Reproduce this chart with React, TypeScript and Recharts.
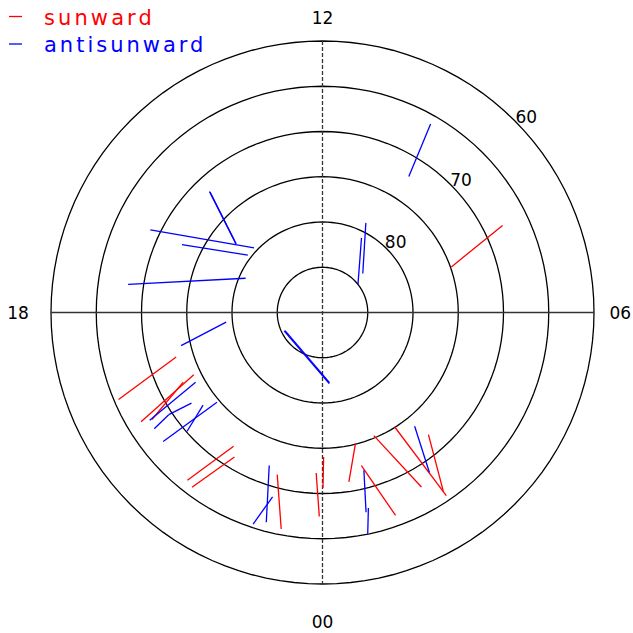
import { ScatterChart, Scatter, XAxis, YAxis, ReferenceDot } from "recharts"

// segments: [mlt start, lat start, mlt end, lat end]
const sunward = [
  [7.72, 67.9, 7.3, 74.9],
  [19.13, 73.1, 19.54, 65.5],
  [19.72, 74.2, 20.07, 66.6],
  [19.77, 72.8, 20.14, 67.75],
  [21.76, 72.25, 21.41, 66.2],
  [21.91, 71.3, 21.55, 65.9],
  [22.96, 71.4, 23.28, 65.65],
  [23.85, 72.25, 23.94, 67.46],
  [0.03, 74.04, 0.01, 70.6],
  [0.94, 75.06, 0.59, 71.05],
  [0.95, 72.54, 1.32, 66.17],
  [1.51, 75.26, 1.97, 67.84],
  [2.15, 75.04, 2.27, 65.57],
  [2.73, 72.14, 2.27, 66.15],
]

const antisunward = [
  [14.87, 71.7, 15.44, 77.8],
  [14.87, 71.8, 15.43, 77.8],
  [16.29, 68.9, 15.11, 79.6],
  [16.28, 72.75, 15.5, 79.6],
  [17.45, 68.3, 16.4, 80.7],
  [10.01, 66.0, 9.84, 72.2],
  [10.28, 79.0, 8.94, 83.8],
  [10.16, 80.7, 8.56, 85.0],
  [18.38, 79.3, 18.88, 73.95],
  [19.72, 85.4, 0.38, 82.2],
  [19.7, 85.3, 0.36, 82.1],
  [19.92, 74.0, 20.13, 67.5],
  [20.31, 72.4, 20.24, 69.6],
  [20.24, 69.6, 20.31, 67.4],
  [20.69, 74.7, 20.6, 67.35],
  [20.52, 73.3, 20.75, 70.1],
  [22.72, 72.1, 23.0, 66.0],
  [22.99, 68.9, 22.79, 65.4],
  [0.98, 71.97, 0.82, 67.4],
  [0.88, 67.8, 0.77, 65.04],
  [2.6, 73.82, 2.25, 68.73],
]

const latCircles = [85, 80, 75, 70, 65, 60]
const latLabels = [80, 70, 60]
const mltLabels = ["00", "06", "12", "18"]

const toXY = (mlt: number, lat: number) => {
  const colat = 90 - lat
  const th = (mlt * 15 * Math.PI) / 180
  return { x: colat * Math.sin(th), y: -colat * Math.cos(th) }
}

const circlePoints = (lat: number) => {
  const pts = []
  for (let a = 0; a <= 360; a += 3) pts.push(toXY(a / 15, lat))
  return pts
}

// label distance outside the 60° circle, per MLT label
const mltLabelLat: Record<string, number> = { "00": 55.8, "06": 57.1, "12": 57.5, "18": 56.35 }

const noDot = () => <g />

export default function App() {
  const W = 633
  const H = 633
  return (
    <div style={{ position: "absolute", left: 0, top: 0, width: W, height: H, background: "#fff", fontFamily: "DejaVu Sans" }}>
      <ScatterChart width={W} height={H} margin={{ top: 4.8, right: 2.8, bottom: 12.8, left: 14.8 }}>
        <XAxis type="number" dataKey="x" domain={[-34, 34]} hide allowDataOverflow />
        <YAxis type="number" dataKey="y" domain={[-34, 34]} hide allowDataOverflow />
        {latCircles.map((lat) => (
          <Scatter
            key={"c" + lat}
            data={circlePoints(lat)}
            line={{ stroke: "#000", strokeWidth: 1.3 }}
            shape={noDot}
            isAnimationActive={false}
          />
        ))}
        <Scatter
          data={[toXY(18, 60), toXY(6, 60)]}
          line={{ stroke: "#333", strokeWidth: 1.3 }}
          shape={noDot}
          isAnimationActive={false}
        />
        <Scatter
          data={[toXY(12, 60), toXY(0, 60)]}
          line={{ stroke: "#333", strokeWidth: 1.3, strokeDasharray: "4 2" }}
          shape={noDot}
          isAnimationActive={false}
        />
        {sunward.map((s, i) => (
          <Scatter
            key={"s" + i}
            data={[toXY(s[0], s[1]), toXY(s[2], s[3])]}
            line={{ stroke: "#ff0000", strokeWidth: 1.3 }}
            shape={noDot}
            isAnimationActive={false}
          />
        ))}
        {antisunward.map((s, i) => (
          <Scatter
            key={"a" + i}
            data={[toXY(s[0], s[1]), toXY(s[2], s[3])]}
            line={{ stroke: "#0000ff", strokeWidth: 1.3 }}
            shape={noDot}
            isAnimationActive={false}
          />
        ))}
        {mltLabels.map((m) => {
          const p = toXY(Number(m), mltLabelLat[m])
          return (
            <ReferenceDot
              key={"m" + m}
              x={p.x}
              y={p.y}
              r={0}
              ifOverflow="visible"
              shape={(props: any) => (
                <text x={props.cx} y={props.cy} textAnchor="middle" dominantBaseline="central" fontSize={17} fill="#000">
                  {m}
                </text>
              )}
            />
          )
        })}
        {latLabels.map((lat) => {
          const p = toXY(8.92, lat - 1.2)
          return (
            <ReferenceDot
              key={"l" + lat}
              x={p.x}
              y={p.y}
              r={0}
              ifOverflow="visible"
              shape={(props: any) => (
                <text x={props.cx} y={props.cy} textAnchor="middle" dominantBaseline="central" fontSize={17} fill="#000">
                  {lat}
                </text>
              )}
            />
          )
        })}
      </ScatterChart>
      <svg width={220} height={60} style={{ position: "absolute", left: 0, top: 0 }}>
        <line x1={9} x2={22} y1={16.5} y2={16.5} stroke="#ff0000" strokeWidth={1.3} />
        <text x={44} y={25} fontSize={21} letterSpacing={3.1} fill="#ff0000">sunward</text>
        <line x1={9} x2={22} y1={44} y2={44} stroke="#0000ff" strokeWidth={1.3} />
        <text x={44} y={52} fontSize={21} letterSpacing={3} fill="#0000ff">antisunward</text>
      </svg>
    </div>
  )
}
